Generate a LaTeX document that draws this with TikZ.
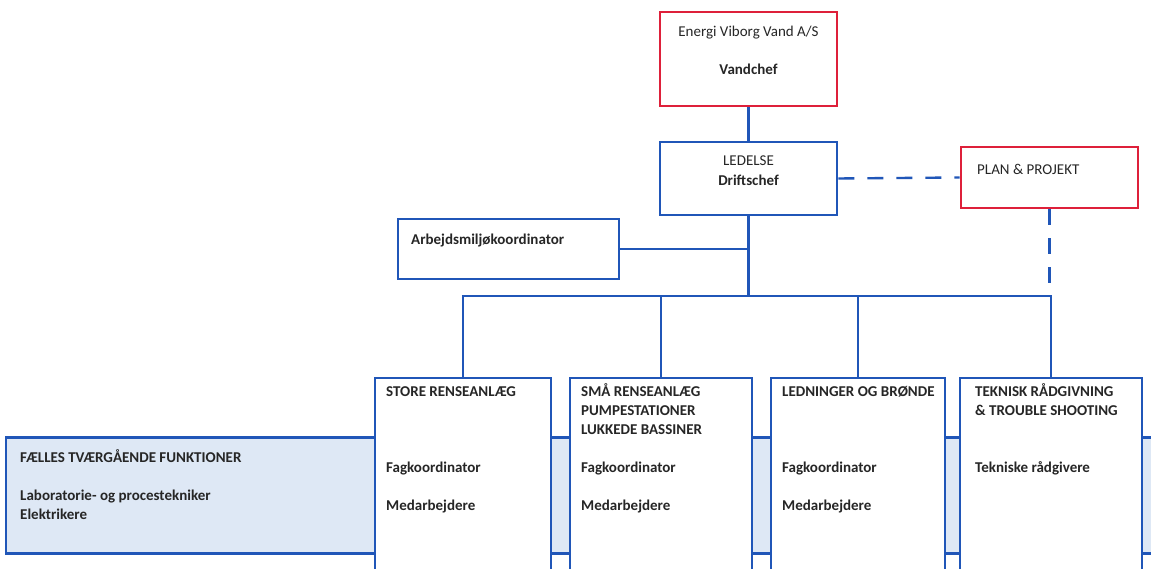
\documentclass[tikz,border=0pt]{standalone}
\usepackage{fontspec}
\setmainfont{Carlito}
\usetikzlibrary{calc}
\definecolor{orgblue}{RGB}{32,86,184}
\definecolor{orgred}{RGB}{222,32,58}
\definecolor{bandfill}{RGB}{222,232,245}
\tikzset{
  box/.style={draw=orgblue, line width=2.8pt, fill=white, inner sep=0pt},
  redbox/.style={draw=orgred, line width=2.8pt, fill=white, inner sep=0pt},
  conn/.style={draw=orgblue, line width=2.4pt},
  dconn/.style={draw=orgblue, line width=2.4pt, dash pattern=on 16pt off 13pt},
  txt/.style={inner sep=0pt, anchor=base west, font=\fontsize{15}{18}\selectfont\bfseries, text=black!85},
  ctxt/.style={inner sep=0pt, anchor=base, font=\fontsize{15}{18}\selectfont, text=black!85},
}
\begin{document}
\begin{tikzpicture}[x=1pt,y=-1pt]
\useasboundingbox (0,0) rectangle (1151,569);
\clip (0,0) rectangle (1151,569);
\fill[white] (0,0) rectangle (1151,569);
% band
\node[draw=orgblue, line width=2.8pt, fill=bandfill, inner sep=0pt, minimum width=1160pt, minimum height=116pt] (band) at (586,495.5) {};
% top boxes
\node[redbox, minimum width=177pt, minimum height=94pt] (vand) at (748.5,59) {};
\node[box, minimum width=177pt, minimum height=73pt] (led) at (748.5,178.5) {};
\node[redbox, minimum width=177pt, minimum height=61pt] (plan) at (1049.5,177.5) {};
\node[box, minimum width=221pt, minimum height=60pt] (arb) at (508.5,249) {};
% bottom boxes
\node[box, minimum width=176pt, minimum height=210pt] (b1) at (463,483) {};
\node[box, minimum width=182pt, minimum height=210pt] (b2) at (661,483) {};
\node[box, minimum width=174pt, minimum height=210pt] (b3) at (858,483) {};
\node[box, minimum width=182pt, minimum height=210pt] (b4) at (1051,483) {};
% bus
\coordinate (busL) at (463,296);
\coordinate (busR) at (1051,296);
\draw[conn] (vand.south) -- (led.north);
\draw[conn] (led.south) -- (led.south |- busL);
\draw[conn] (arb.east) -- (arb.east -| led.south);
\draw[conn] ([xshift=-1.2pt]busL) -- ([xshift=1.2pt]busR);
\draw[conn] (busL) -- (b1.north);
\draw[conn] (b2.north |- busL) -- (b2.north);
\draw[conn] (b3.north |- busL) -- (b3.north);
\draw[conn] (b4.north |- busL) -- (b4.north);
\draw[dconn] (led.east) -- (plan.west);
\draw[dconn] (plan.south) -- (plan.south |- busR);
% texts
\node[ctxt] (t1) at (748.5,37) {Energi Viborg Vand A/S};
\node[ctxt, font=\fontsize{15}{18}\selectfont\bfseries] (t2) at (748.5,75) {Vandchef};
\node[ctxt] (t3) at (748.5,166) {LEDELSE};
\node[ctxt, font=\fontsize{15}{18}\selectfont\bfseries] (t4) at (748.5,186) {Driftschef};
\node[txt, font=\fontsize{15}{18}\selectfont] (t5) at (977,175) {PLAN \& PROJEKT};
\node[txt] (t6) at (411,245) {Arbejdsmiljøkoordinator};
\node[txt] (t7) at (20,462) {FÆLLES TVÆRGÅENDE FUNKTIONER};
\node[txt] (t8) at (20,500) {Laboratorie- og procestekniker};
\node[txt] (t9) at (20,519) {Elektrikere};
\node[txt] (b1a) at (386,396) {STORE RENSEANLÆG};
\node[txt] (b1b) at (386,472) {Fagkoordinator};
\node[txt] (b1c) at (386,510) {Medarbejdere};
\node[txt] (b2a) at (581,396) {SMÅ RENSEANLÆG};
\node[txt] (b2b) at (581,415) {PUMPESTATIONER};
\node[txt] (b2c) at (581,434) {LUKKEDE BASSINER};
\node[txt] (b2d) at (581,472) {Fagkoordinator};
\node[txt] (b2e) at (581,510) {Medarbejdere};
\node[txt] (b3a) at (782,396) {LEDNINGER OG BRØNDE};
\node[txt] (b3b) at (782,472) {Fagkoordinator};
\node[txt] (b3c) at (782,510) {Medarbejdere};
\node[txt] (b4a) at (975,396) {TEKNISK RÅDGIVNING};
\node[txt] (b4b) at (975,415) {\& TROUBLE SHOOTING};
\node[txt] (b4c) at (975,472) {Tekniske rådgivere};
\end{tikzpicture}
\end{document}
